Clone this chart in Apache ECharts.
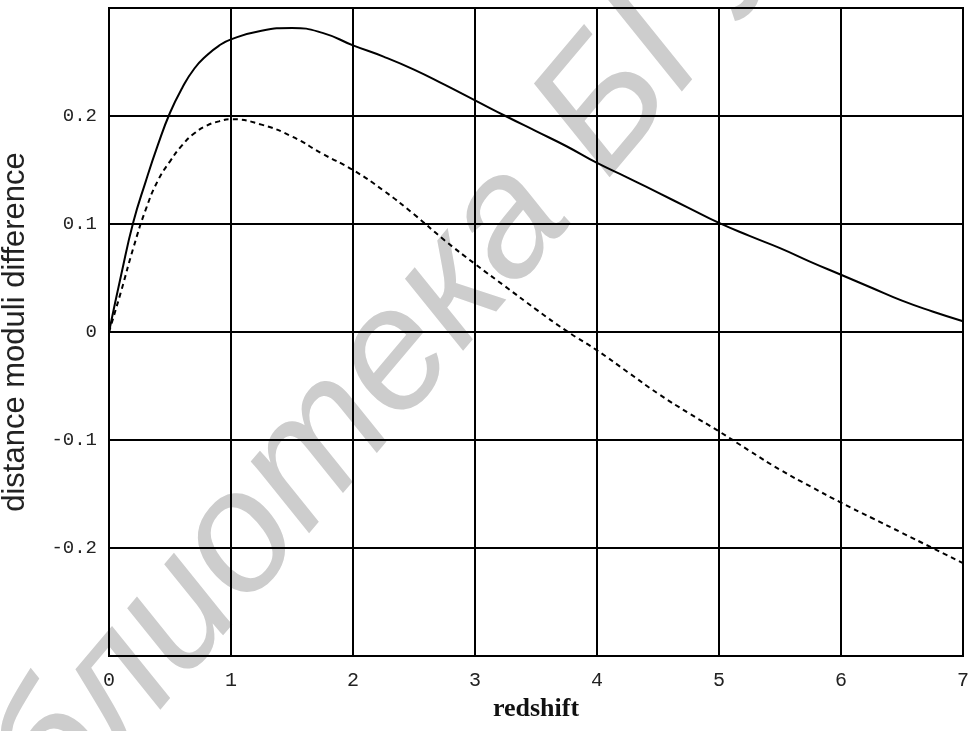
<!DOCTYPE html>
<html>
<head>
<meta charset="utf-8">
<script src="https://cdn.jsdelivr.net/npm/echarts@6/dist/echarts.min.js"></script>
<style>
  html, body { margin: 0; padding: 0; background: #fff; }
  #main { width: 969px; height: 731px; }
</style>
</head>
<body>
<div id="main"></div>
<script>
// values
var redshift = [0, 0.1, 0.2, 0.3, 0.4, 0.5, 0.6, 0.7, 0.8, 0.9, 1.0,
  1.25, 1.5, 1.75, 2.0, 2.25, 2.5, 2.75, 3.0, 3.25, 3.5, 3.75, 4.0,
  4.25, 4.5, 4.75, 5.0, 5.25, 5.5, 5.75, 6.0, 6.25, 6.5, 6.75, 7.0];

var solidDiff = [0, 0.053, 0.102, 0.139, 0.173, 0.203, 0.226, 0.244, 0.256, 0.265, 0.271,
  0.279, 0.2815, 0.277, 0.2654, 0.255, 0.243, 0.229, 0.2145, 0.200, 0.186, 0.172, 0.1565,
  0.143, 0.129, 0.115, 0.101, 0.089, 0.0777, 0.065, 0.053, 0.041, 0.029, 0.019, 0.010];

var dashedDiff = [0, 0.038, 0.078, 0.113, 0.140, 0.158, 0.173, 0.184, 0.191, 0.195, 0.197,
  0.192, 0.181, 0.165, 0.150, 0.131, 0.109, 0.085, 0.063, 0.042, 0.021, 0.001, -0.017,
  -0.037, -0.057, -0.075, -0.092, -0.110, -0.1275, -0.143, -0.158, -0.172, -0.186, -0.200, -0.214];

var xTicks = [0, 1, 2, 3, 4, 5, 6, 7];
var yTickLabels = ['-0.2', '-0.1', '0', '0.1', '0.2'];

var watermark = 'Библиотека БГУ';

function pairs(xs, ys) {
  var out = [];
  for (var i = 0; i < xs.length; i++) out.push([xs[i], ys[i]]);
  return out;
}

var myChart = echarts.init(document.getElementById('main'));

var option = {
  backgroundColor: '#fff',
  animation: false,
  graphic: [{
    type: 'text',
    z: -10,
    x: 332,
    y: 432,
    rotation: 0.87,
    style: {
      text: watermark,
      fill: '#cdcdcd',
      font: 'italic 172px "Liberation Sans", Arial, sans-serif',
      textAlign: 'center',
      textVerticalAlign: 'middle'
    }
  }],
  grid: {
    left: 109,
    top: 8,
    right: 6,
    bottom: 75,
    outerBoundsMode: 'none',
    containLabel: false,
    show: true,
    borderColor: '#000',
    borderWidth: 2,
    backgroundColor: 'transparent'
  },
  xAxis: {
    type: 'value',
    min: 0,
    max: 7,
    interval: 1,
    name: 'redshift',
    nameLocation: 'middle',
    nameGap: 37,
    nameTextStyle: {
      fontFamily: '"Liberation Serif", "Times New Roman", serif',
      fontWeight: 'bold',
      fontSize: 26,
      color: '#111'
    },
    axisLine: { lineStyle: { color: '#000', width: 2 } },
    axisTick: { show: false },
    axisLabel: {
      margin: 15,
      fontFamily: '"Liberation Mono", monospace',
      fontSize: 20,
      color: '#222',
      formatter: function (v) {
        return xTicks.indexOf(v) >= 0 ? String(v) : '';
      }
    },
    splitLine: { show: true, lineStyle: { color: '#000', width: 2 } }
  },
  yAxis: {
    type: 'value',
    min: -0.3,
    max: 0.3,
    interval: 0.1,
    name: 'distance moduli difference',
    nameLocation: 'middle',
    nameRotate: 90,
    nameGap: 78,
    nameTextStyle: {
      fontFamily: '"Liberation Sans", Arial, sans-serif',
      fontSize: 31,
      color: '#222'
    },
    axisLine: { show: true, lineStyle: { color: '#000', width: 2 } },
    axisTick: { show: false },
    axisLabel: {
      margin: 12,
      fontFamily: '"Liberation Mono", monospace',
      fontSize: 19,
      color: '#222',
      formatter: function (v) {
        var s = (Math.round(v * 10) / 10).toString();
        if (s === '-0') s = '0';
        return yTickLabels.indexOf(s) >= 0 ? s : '';
      }
    },
    splitLine: { show: true, lineStyle: { color: '#000', width: 2 } }
  },
  series: [
    {
      name: 'solid',
      type: 'line',
      smooth: true,
      symbol: 'none',
      lineStyle: { color: '#000', width: 2 },
      data: pairs(redshift, solidDiff),
      z: 5
    },
    {
      name: 'dashed',
      type: 'line',
      smooth: true,
      symbol: 'none',
      lineStyle: { color: '#000', width: 2, type: [5, 4] },
      data: pairs(redshift, dashedDiff),
      z: 5
    }
  ]
};

option && myChart.setOption(option);
</script>
</body>
</html>
